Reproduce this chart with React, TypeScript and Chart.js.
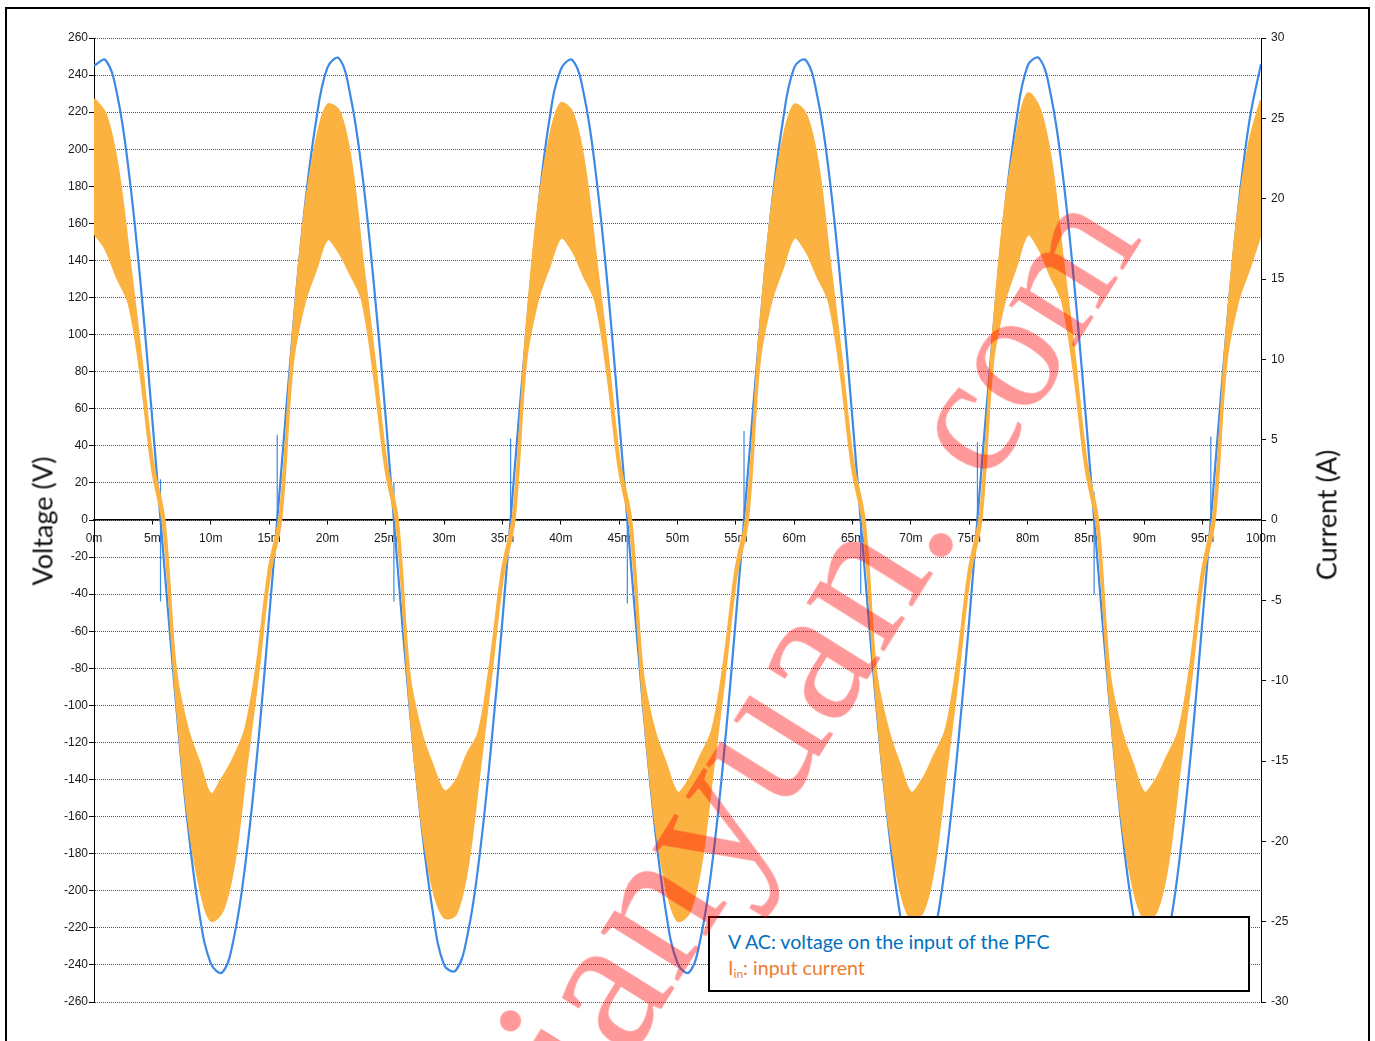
import React, { useEffect, useRef } from "react";
import { Chart, registerables } from "chart.js";

Chart.register(...registerables);

// ---- data ----
const timeMs = [
  0, 1, 2, 3, 4, 5, 6, 7, 8, 9, 10, 11, 12, 13, 14, 15, 16, 17, 18, 19,
  20, 21, 22, 23, 24, 25, 26, 27, 28, 29, 30, 31, 32, 33, 34, 35, 36, 37, 38, 39,
  40, 41, 42, 43, 44, 45, 46, 47, 48, 49, 50, 51, 52, 53, 54, 55, 56, 57, 58, 59,
  60, 61, 62, 63, 64, 65, 66, 67, 68, 69, 70, 71, 72, 73, 74, 75, 76, 77, 78, 79,
  80, 81, 82, 83, 84, 85, 86, 87, 88, 89, 90, 91, 92, 93, 94, 95, 96, 97, 98, 99,
  100,
];

// V AC (volts)
const voltageV = [
  245, 248, 229, 187, 127, 54, -23, -97, -162, -211, -239, -244, -225, -184, -125, -53, 23, 99, 165, 214,
  244, 249, 228, 186, 126, 55, -24, -98, -161, -210, -240, -243, -224, -183, -124, -54, 24, 98, 164, 215,
  243, 248, 229, 187, 127, 54, -23, -97, -162, -211, -239, -244, -225, -184, -125, -53, 23, 99, 165, 214,
  244, 248, 228, 186, 126, 54, -24, -98, -161, -210, -239, -244, -224, -183, -124, -54, 24, 98, 164, 214,
  245, 249, 229, 187, 127, 55, -23, -97, -162, -211, -240, -243, -225, -184, -125, -53, 23, 99, 165, 215,
  246,
];

// Iin ripple band: upper and lower envelope (amps)
const currentMaxA = [
  26.2, 25.2, 22.0, 16.3, 10.2, 3.7, 0.0, -9.4, -13.0, -15.1, -17.1, -16.1, -14.8, -13.0, -8.9, -3.1, 0.6, 10.9, 18.7, 23.3,
  25.8, 25.4, 22.3, 16.1, 10.1, 3.7, 0.0, -9.6, -13.2, -15.3, -16.9, -16.3, -14.6, -13.2, -8.8, -3.1, 0.6, 11.1, 18.9, 23.5,
  25.9, 25.3, 22.1, 16.2, 10.2, 3.7, 0.0, -9.5, -13.1, -15.2, -17.0, -16.2, -14.7, -13.1, -8.9, -3.1, 0.6, 11.0, 18.8, 23.4,
  25.8, 25.2, 22.2, 16.2, 10.2, 3.7, 0.0, -9.5, -13.0, -15.2, -17.0, -16.2, -14.7, -13.1, -8.9, -3.1, 0.6, 11.0, 18.9, 23.6,
  26.5, 25.6, 22.3, 16.2, 10.2, 3.7, 0.0, -9.5, -13.1, -15.2, -17.0, -16.2, -14.7, -13.1, -8.9, -3.1, 0.6, 11.0, 18.8, 23.4,
  26.1,
];
const currentMinA = [
  17.9, 16.9, 15.1, 13.5, 9.2, 3.2, -0.6, -10.5, -18.0, -22.5, -24.9, -24.3, -21.3, -15.5, -9.8, -3.6, 0.0, 9.7, 13.5, 15.6,
  17.5, 16.7, 15.3, 13.7, 9.1, 3.2, -0.6, -10.7, -18.2, -22.7, -24.7, -24.5, -21.5, -15.7, -9.7, -3.6, 0.0, 9.9, 13.7, 15.8,
  17.6, 16.8, 15.2, 13.6, 9.2, 3.2, -0.6, -10.6, -18.1, -22.6, -24.9, -24.4, -21.4, -15.6, -9.8, -3.6, 0.0, 9.8, 13.6, 15.7,
  17.6, 16.8, 15.2, 13.6, 9.2, 3.2, -0.6, -10.6, -18.1, -22.6, -24.8, -24.4, -21.4, -15.6, -9.8, -3.6, 0.0, 9.8, 13.6, 15.8,
  17.8, 16.9, 15.2, 13.6, 9.2, 3.2, -0.6, -10.6, -18.1, -22.6, -24.8, -24.4, -21.4, -15.6, -9.8, -3.6, 0.0, 9.8, 13.6, 15.7,
  17.9,
];

// switching spikes on V AC at each zero crossing
const spikeTimesMs = [5.7, 15.7, 25.7, 35.7, 45.7, 55.7, 65.7, 75.7, 85.7, 95.7];
const spikeHighV = [22, 46, 20, 44, 8, 48, 12, 42, 15, 45];
const spikeLowV = [-44, -8, -44, -5, -45, -3, -40, -10, -40, -6];

const legendVoltage = "V AC: voltage on the input of the PFC";
const legendCurrentMain = "I";
const legendCurrentSub = "in";
const legendCurrentRest = ": input current";
const yTitleLeft = "Voltage (V)";
const yTitleRight = "Current (A)";
const watermarkHead = "dianyuan.";
const watermarkTail = "com";

const BLUE = "#3c89e6";
const ORANGE = "#fbb240";
const TICK_FONT = { family: "'Liberation Sans', Arial, sans-serif", size: 12 };

export default function App() {
  const canvasRef = useRef<HTMLCanvasElement | null>(null);

  useEffect(() => {
    const canvas = canvasRef.current;
    if (!canvas) return;
    const pts = (ys: number[]) => timeMs.map((t, i) => ({ x: t, y: ys[i] }));
    const spikeData: { x: number; y: number | null }[] = [];
    spikeTimesMs.forEach((t, i) => {
      spikeData.push({ x: t, y: spikeHighV[i] }, { x: t, y: spikeLowV[i] }, { x: t, y: null });
    });

    const chart = new Chart(canvas, {
      type: "line",
      data: {
        datasets: [
          {
            label: "Iin max",
            data: pts(currentMaxA),
            yAxisID: "yI",
            borderColor: ORANGE,
            backgroundColor: ORANGE,
            borderWidth: 3,
            pointRadius: 0,
            tension: 0.35,
            fill: "+1",
            order: 1,
          },
          {
            label: "Iin min",
            data: pts(currentMinA),
            yAxisID: "yI",
            borderColor: ORANGE,
            backgroundColor: ORANGE,
            borderWidth: 3,
            pointRadius: 0,
            tension: 0.35,
            fill: false,
            order: 1,
          },
          {
            label: "V AC",
            data: pts(voltageV),
            yAxisID: "yV",
            borderColor: BLUE,
            borderWidth: 2.2,
            pointRadius: 0,
            tension: 0.4,
            fill: false,
            order: 2,
          },
          {
            label: "V AC spikes",
            data: spikeData,
            yAxisID: "yV",
            borderColor: BLUE,
            borderWidth: 1.2,
            pointRadius: 0,
            spanGaps: false,
            fill: false,
            order: 2,
          },
        ],
      },
      options: {
        animation: false,
        responsive: false,
        maintainAspectRatio: false,
        layout: { padding: { top: 38, bottom: 39, left: 0, right: 0 } },
        plugins: { legend: { display: false }, tooltip: { enabled: false } },
        scales: {
          x: {
            type: "linear",
            min: 0,
            max: 100,
            position: { yV: 0 } as any,
            ticks: {
              stepSize: 5,
              autoSkip: false,
              maxRotation: 0,
              callback: (v: any) => v + "m",
              font: TICK_FONT,
              color: "#1a1a1a",
              padding: 7,
            },
            grid: { drawOnChartArea: false, drawTicks: true, tickLength: 4, color: "#000", lineWidth: 1 },
            border: { display: true, color: "#000", width: 1.5 },
          },
          yV: {
            type: "linear",
            position: "left",
            min: -260,
            max: 260,
            ticks: { stepSize: 20, autoSkip: false, font: TICK_FONT, color: "#1a1a1a", padding: 1 },
            grid: { color: "#555", lineWidth: 1, tickLength: 5, tickColor: "#000", drawTicks: true },
            border: { display: true, color: "#000", width: 1, dash: [1, 1] },
            afterFit: (s: any) => {
              s.width = 94;
            },
          },
          yI: {
            type: "linear",
            position: "right",
            min: -30,
            max: 30,
            ticks: { stepSize: 5, autoSkip: false, font: TICK_FONT, color: "#1a1a1a", padding: 5 },
            grid: { drawOnChartArea: false, tickLength: 5, color: "#000" },
            border: { display: true, color: "#000", width: 1 },
            afterFit: (s: any) => {
              s.width = 114;
            },
          },
        },
      } as any,
    });
    return () => chart.destroy();
  }, []);

  const titleStyle: React.CSSProperties = {
    position: "absolute",
    transform: "translate(-50%, -50%) rotate(-90deg)",
    whiteSpace: "nowrap",
    fontFamily: "Lato, 'Open Sans', sans-serif",
    fontSize: 27,
    color: "#111",
    lineHeight: 1,
  };

  return (
    <div
      style={{
        position: "fixed",
        left: 0,
        top: 0,
        width: 1375,
        height: 1041,
        background: "#fff",
        overflow: "hidden",
      }}
    >
      <div
        style={{
          position: "absolute",
          left: 5,
          top: 7,
          width: 1365,
          height: 1100,
          border: "2px solid #000",
          boxSizing: "border-box",
        }}
      />
      <canvas ref={canvasRef} width={1375} height={1041} style={{ position: "absolute", left: 0, top: 0 }} />
      <div style={{ ...titleStyle, left: 42, top: 521 }}>{yTitleLeft}</div>
      <div style={{ ...titleStyle, left: 1326, top: 515 }}>{yTitleRight}</div>
      <div
        style={{
          position: "absolute",
          left: 708,
          top: 916,
          width: 542,
          height: 76,
          border: "2px solid #000",
          boxSizing: "border-box",
          background: "#fff",
          fontFamily: "Lato, 'Open Sans', sans-serif",
          fontSize: 19.6,
          lineHeight: "26px",
          paddingLeft: 18,
          paddingTop: 11,
        }}
      >
        <div style={{ color: "#0070c0" }}>{legendVoltage}</div>
        <div style={{ color: "#ed7d31" }}>
          {legendCurrentMain}
          <sub style={{ fontSize: 12, verticalAlign: "-3px" }}>{legendCurrentSub}</sub>
          {legendCurrentRest}
        </div>
      </div>
      <div
        style={{
          position: "absolute",
          left: 405,
          top: 1104,
          transformOrigin: "0 0",
          transform: "rotate(-58deg)",
          whiteSpace: "nowrap",
          fontFamily: "'Liberation Serif', 'DejaVu Serif', serif",
          fontSize: 200,
          lineHeight: 1,
          color: "rgba(255, 0, 0, 0.4)",
          pointerEvents: "none",
        }}
      >
        {watermarkHead}
        <span style={{ fontSize: 170, marginLeft: 50 }}>{watermarkTail}</span>
      </div>
    </div>
  );
}
